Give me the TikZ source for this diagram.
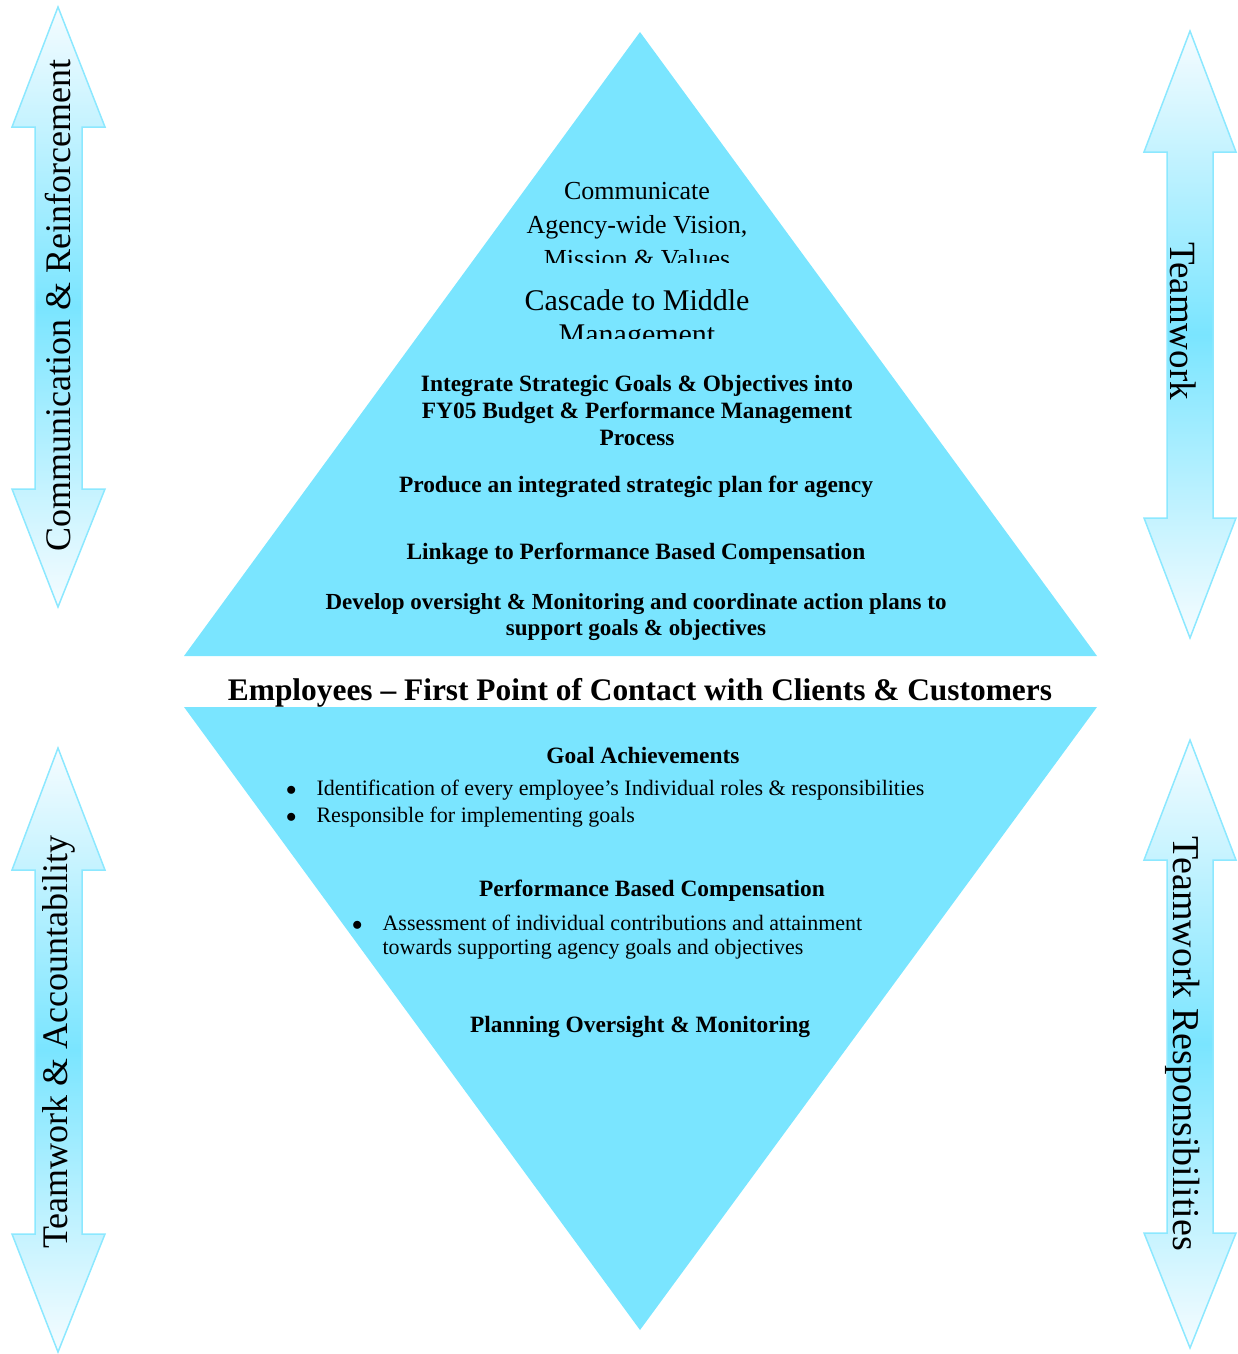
\documentclass[tikz,border=0pt]{standalone}
\usepackage{fontspec}
\setmainfont{Liberation Serif}
\definecolor{diamfill}{RGB}{122,229,255}
\definecolor{arrline}{RGB}{140,232,255}
\definecolor{arrpale}{RGB}{246,252,255}
\begin{document}
\begin{tikzpicture}[x=1pt,y=-1pt,
  half/.style={fill=diamfill,draw=none},
  sidearrow/.style={draw=arrline,line width=1.5pt,line join=miter,
    top color=arrpale,bottom color=arrpale,middle color=diamfill},
  sidelabel/.style={inner sep=0pt,font=\fontsize{36}{40}\selectfont},
  blk/.style={align=center,inner sep=0pt},
  boldtxt/.style={blk,font=\bfseries\fontsize{23.4}{27}\selectfont},
]
\useasboundingbox (0,0) rectangle (1238,1354);

% the two halves of the diamond
\fill[half] (640,32) -- (1097,656) -- (184,656) -- cycle;
\fill[half] (184,707) -- (1097,707) -- (640,1330) -- cycle;

% side double arrows
\draw[sidearrow] (58,7) -- (105,127) -- (82,127) -- (82,489) -- (105,489) -- (58,607)
  -- (12,489) -- (35,489) -- (35,127) -- (12,127) -- cycle;
\draw[sidearrow] (1190,31) -- (1236,152) -- (1213,152) -- (1213,518) -- (1236,518) -- (1190,638)
  -- (1144,518) -- (1167,518) -- (1167,152) -- (1144,152) -- cycle;
\draw[sidearrow] (58,748) -- (105,870) -- (82,870) -- (82,1234) -- (105,1234) -- (58,1352)
  -- (12,1234) -- (35,1234) -- (35,870) -- (12,870) -- cycle;
\draw[sidearrow] (1190,740) -- (1236,860) -- (1213,860) -- (1213,1233) -- (1236,1233) -- (1190,1348)
  -- (1144,1233) -- (1167,1233) -- (1167,860) -- (1144,860) -- cycle;

\node[sidelabel,rotate=90] (commreinf) at (58,306) {Communication \& Reinforcement};
\node[sidelabel,rotate=90] (teamacc) at (59,1042) {Teamwork \& Accountability};
\node[sidelabel,rotate=-90,font=\fontsize{37}{40}\selectfont] (team) at (1183,321) {Teamwork};
\node[sidelabel,rotate=-90,font=\fontsize{38}{40}\selectfont] (teamresp) at (1183,1044) {Teamwork Responsibilities};

% upper half: top-down steps
\begin{scope}
  \clip (300,150) rectangle (980,262);
  \node[blk,font=\fontsize{26}{34}\selectfont] (vision) at (637,225)
    {Communicate\\Agency-wide Vision,\\Mission \& Values};
\end{scope}
\begin{scope}
  \clip (300,280) rectangle (980,338);
  \node[blk,font=\fontsize{30}{34}\selectfont] (cascade) at (637,320)
    {Cascade to Middle\\Management};
\end{scope}
\node[boldtxt] (integrate) at (637,410)
  {Integrate Strategic Goals \& Objectives into\\FY05 Budget \& Performance Management\\Process};
\node[boldtxt] (produce) at (636,487) {Produce an integrated strategic plan for agency};
\node[boldtxt] (linkage) at (636,554) {Linkage to Performance Based Compensation};
\node[boldtxt,font=\bfseries\fontsize{23}{26}\selectfont] (develop) at (636,617)
  {Develop oversight \& Monitoring and coordinate action plans to\\support goals \& objectives};

% band between the halves
\node[blk,font=\bfseries\fontsize{31.4}{34}\selectfont] (employees) at (640,693)
  {Employees -- First Point of Contact with Clients \& Customers};

% lower half
\node[boldtxt] (goals) at (643,755) {Goal Achievements};
\node[blk,anchor=west,font=\fontsize{22}{27}\selectfont] (goallist) at (286,804)
  {\begin{tabular}{@{}l@{\hspace{20pt}}l@{}}
   $\bullet$ & Identification of every employee’s Individual roles \& responsibilities\\
   $\bullet$ & Responsible for implementing goals
   \end{tabular}};
\node[boldtxt] (pbc) at (652,891) {Performance Based Compensation};
\node[blk,anchor=west,font=\fontsize{22}{24}\selectfont] (pbclist) at (352,938)
  {\begin{tabular}{@{}l@{\hspace{20pt}}l@{}}
   $\bullet$ & Assessment of individual contributions and attainment\\
    & towards supporting agency goals and objectives
   \end{tabular}};
\node[boldtxt] (planning) at (640,1027) {Planning Oversight \& Monitoring};
\end{tikzpicture}
\end{document}
